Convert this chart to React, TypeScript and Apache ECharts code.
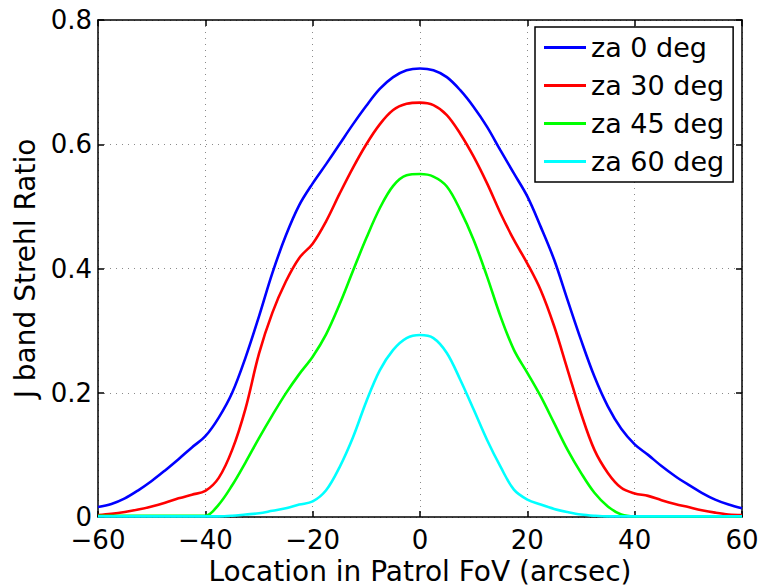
import React, { useEffect, useRef } from "react";
import * as echarts from "echarts";

const X = [-60, -57.5, -55, -52.5, -50, -47.5, -45, -42.5, -40, -37.5, -35, -32.5, -30, -27.5, -25, -22.5, -20,
  -17.5, -15, -12.5, -10, -7.5, -5, -2.5, 0,
  2.5, 5, 7.5, 10, 12.5, 15, 17.5, 20, 22.5, 25, 27.5, 30, 32.5, 35, 37.5, 40,
  42.5, 45, 47.5, 50, 52.5, 55, 57.5, 60];

const za0 = [0.016, 0.021, 0.03, 0.043, 0.058, 0.075, 0.093, 0.112, 0.13, 0.16, 0.2, 0.257, 0.323, 0.393, 0.453, 0.502, 0.537,
  0.568, 0.6, 0.632, 0.662, 0.689, 0.708, 0.719, 0.722,
  0.719, 0.708, 0.687, 0.66, 0.628, 0.59, 0.553, 0.516, 0.467, 0.414, 0.349, 0.285, 0.226, 0.178, 0.142, 0.117,
  0.1, 0.082, 0.066, 0.052, 0.039, 0.028, 0.02, 0.014];
const za30 = [0.003, 0.005, 0.008, 0.012, 0.017, 0.023, 0.03, 0.036, 0.042, 0.063, 0.108, 0.175, 0.263, 0.329, 0.379, 0.417, 0.44,
  0.476, 0.52, 0.562, 0.6, 0.632, 0.655, 0.665, 0.667,
  0.663, 0.647, 0.617, 0.58, 0.537, 0.489, 0.446, 0.408, 0.365, 0.307, 0.237, 0.167, 0.108, 0.071, 0.047, 0.038,
  0.034, 0.027, 0.021, 0.016, 0.011, 0.007, 0.004, 0.003];
const za45 = [0.002, 0.002, 0.002, 0.002, 0.002, 0.002, 0.002, 0.002, 0.002, 0.02, 0.051, 0.088, 0.127, 0.164, 0.199, 0.23, 0.258,
  0.294, 0.342, 0.396, 0.449, 0.497, 0.533, 0.55, 0.552,
  0.548, 0.532, 0.494, 0.446, 0.387, 0.323, 0.269, 0.232, 0.194, 0.151, 0.108, 0.071, 0.039, 0.017, 0.004, 0.001,
  0.001, 0.001, 0.001, 0.001, 0.001, 0.001, 0.001, 0.001];
const za60 = [0.001, 0.001, 0.001, 0.001, 0.001, 0.001, 0.001, 0.001, 0.001, 0.001, 0.002, 0.004, 0.006, 0.01, 0.014, 0.02, 0.025,
  0.043, 0.08, 0.128, 0.186, 0.236, 0.269, 0.288, 0.293,
  0.288, 0.264, 0.221, 0.173, 0.124, 0.081, 0.044, 0.028, 0.02, 0.013, 0.008, 0.004, 0.002, 0.001, 0.001, 0.001,
  0.001, 0.001, 0.001, 0.001, 0.001, 0.001, 0.001, 0.001];

const seriesNames = ["za 0 deg", "za 30 deg", "za 45 deg", "za 60 deg"];
const seriesValues = [za0, za30, za45, za60];
const seriesColors = ["#0000ff", "#ff0000", "#00ff00", "#00ffff"];

const xTitle = "Location in Patrol FoV (arcsec)";
const yTitle = "J band Strehl Ratio";

const FONT = "DejaVu Sans";

export default function App() {
  const ref = useRef<HTMLDivElement>(null);
  useEffect(() => {
    if (!ref.current) return;
    const chart = echarts.init(ref.current, null, { renderer: "svg", width: 762, height: 585 });
    const gridLine = { show: true, lineStyle: { color: "#8a8a8a", width: 1, type: [1, 5] as any } };
    const axisLine = { show: true, onZero: false, lineStyle: { color: "#000", width: 1.5 } };
    const tick = { show: true, inside: true, length: 6, lineStyle: { color: "#000", width: 1.5 } };
    chart.setOption({
      animation: false,
      backgroundColor: "#fff",
      grid: { left: 98, right: 20, top: 20, bottom: 68, containLabel: false, outerBoundsMode: "none" },
      legend: {
        orient: "vertical",
        left: 535,
        top: 27,
        data: seriesNames,
        icon: "rect",
        itemWidth: 42,
        itemHeight: 3,
        itemGap: 11,
        padding: [7, 9, 7, 9],
        backgroundColor: "#fff",
        borderColor: "#000",
        borderWidth: 1.5,
        borderRadius: 0,
        textStyle: { fontFamily: FONT, fontSize: 27, color: "#000", lineHeight: 27 },
      },
      xAxis: [
        {
          type: "value", min: -60, max: 60, interval: 20, position: "bottom",
          axisLine, axisTick: tick, splitLine: gridLine,
          axisLabel: {
            margin: 12, fontFamily: FONT, fontSize: 26, lineHeight: 22, color: "#000",
            formatter: (v: number) => String(v).replace("-", "\u2212"),
          },
          name: xTitle, nameLocation: "middle", nameGap: 38,
          nameTextStyle: { fontFamily: FONT, fontSize: 28, lineHeight: 28, color: "#000" },
        },
        {
          type: "value", min: -60, max: 60, interval: 20, position: "top",
          axisLine, axisTick: tick, splitLine: { show: false }, axisLabel: { show: false },
        },
      ],
      yAxis: [
        {
          type: "value", min: 0, max: 0.8, interval: 0.2, position: "left",
          axisLine, axisTick: tick, splitLine: gridLine,
          axisLabel: {
            margin: 6, fontFamily: FONT, fontSize: 26, lineHeight: 20, color: "#000",
            formatter: (v: number) => (v === 0 ? "0" : String(Math.round(v * 10) / 10)),
          },
          name: yTitle, nameLocation: "middle", nameGap: 54,
          nameTextStyle: { fontFamily: FONT, fontSize: 28, color: "#000" },
        },
        {
          type: "value", min: 0, max: 0.8, interval: 0.2, position: "right",
          axisLine, axisTick: tick, splitLine: { show: false }, axisLabel: { show: false },
        },
      ],
      series: seriesNames.map((name, i) => ({
        name,
        type: "line",
        xAxisIndex: 0,
        yAxisIndex: 0,
        symbol: "none",
        smooth: 0.35,
        color: seriesColors[i],
        lineStyle: { color: seriesColors[i], width: 2.6 },
        data: X.map((x, j) => [x, seriesValues[i][j]]),
      })),
    });
    return () => chart.dispose();
  }, []);
  return (
    <div
      ref={ref}
      style={{ position: "fixed", left: 0, top: 0, width: 762, height: 585, background: "#fff" }}
    />
  );
}
